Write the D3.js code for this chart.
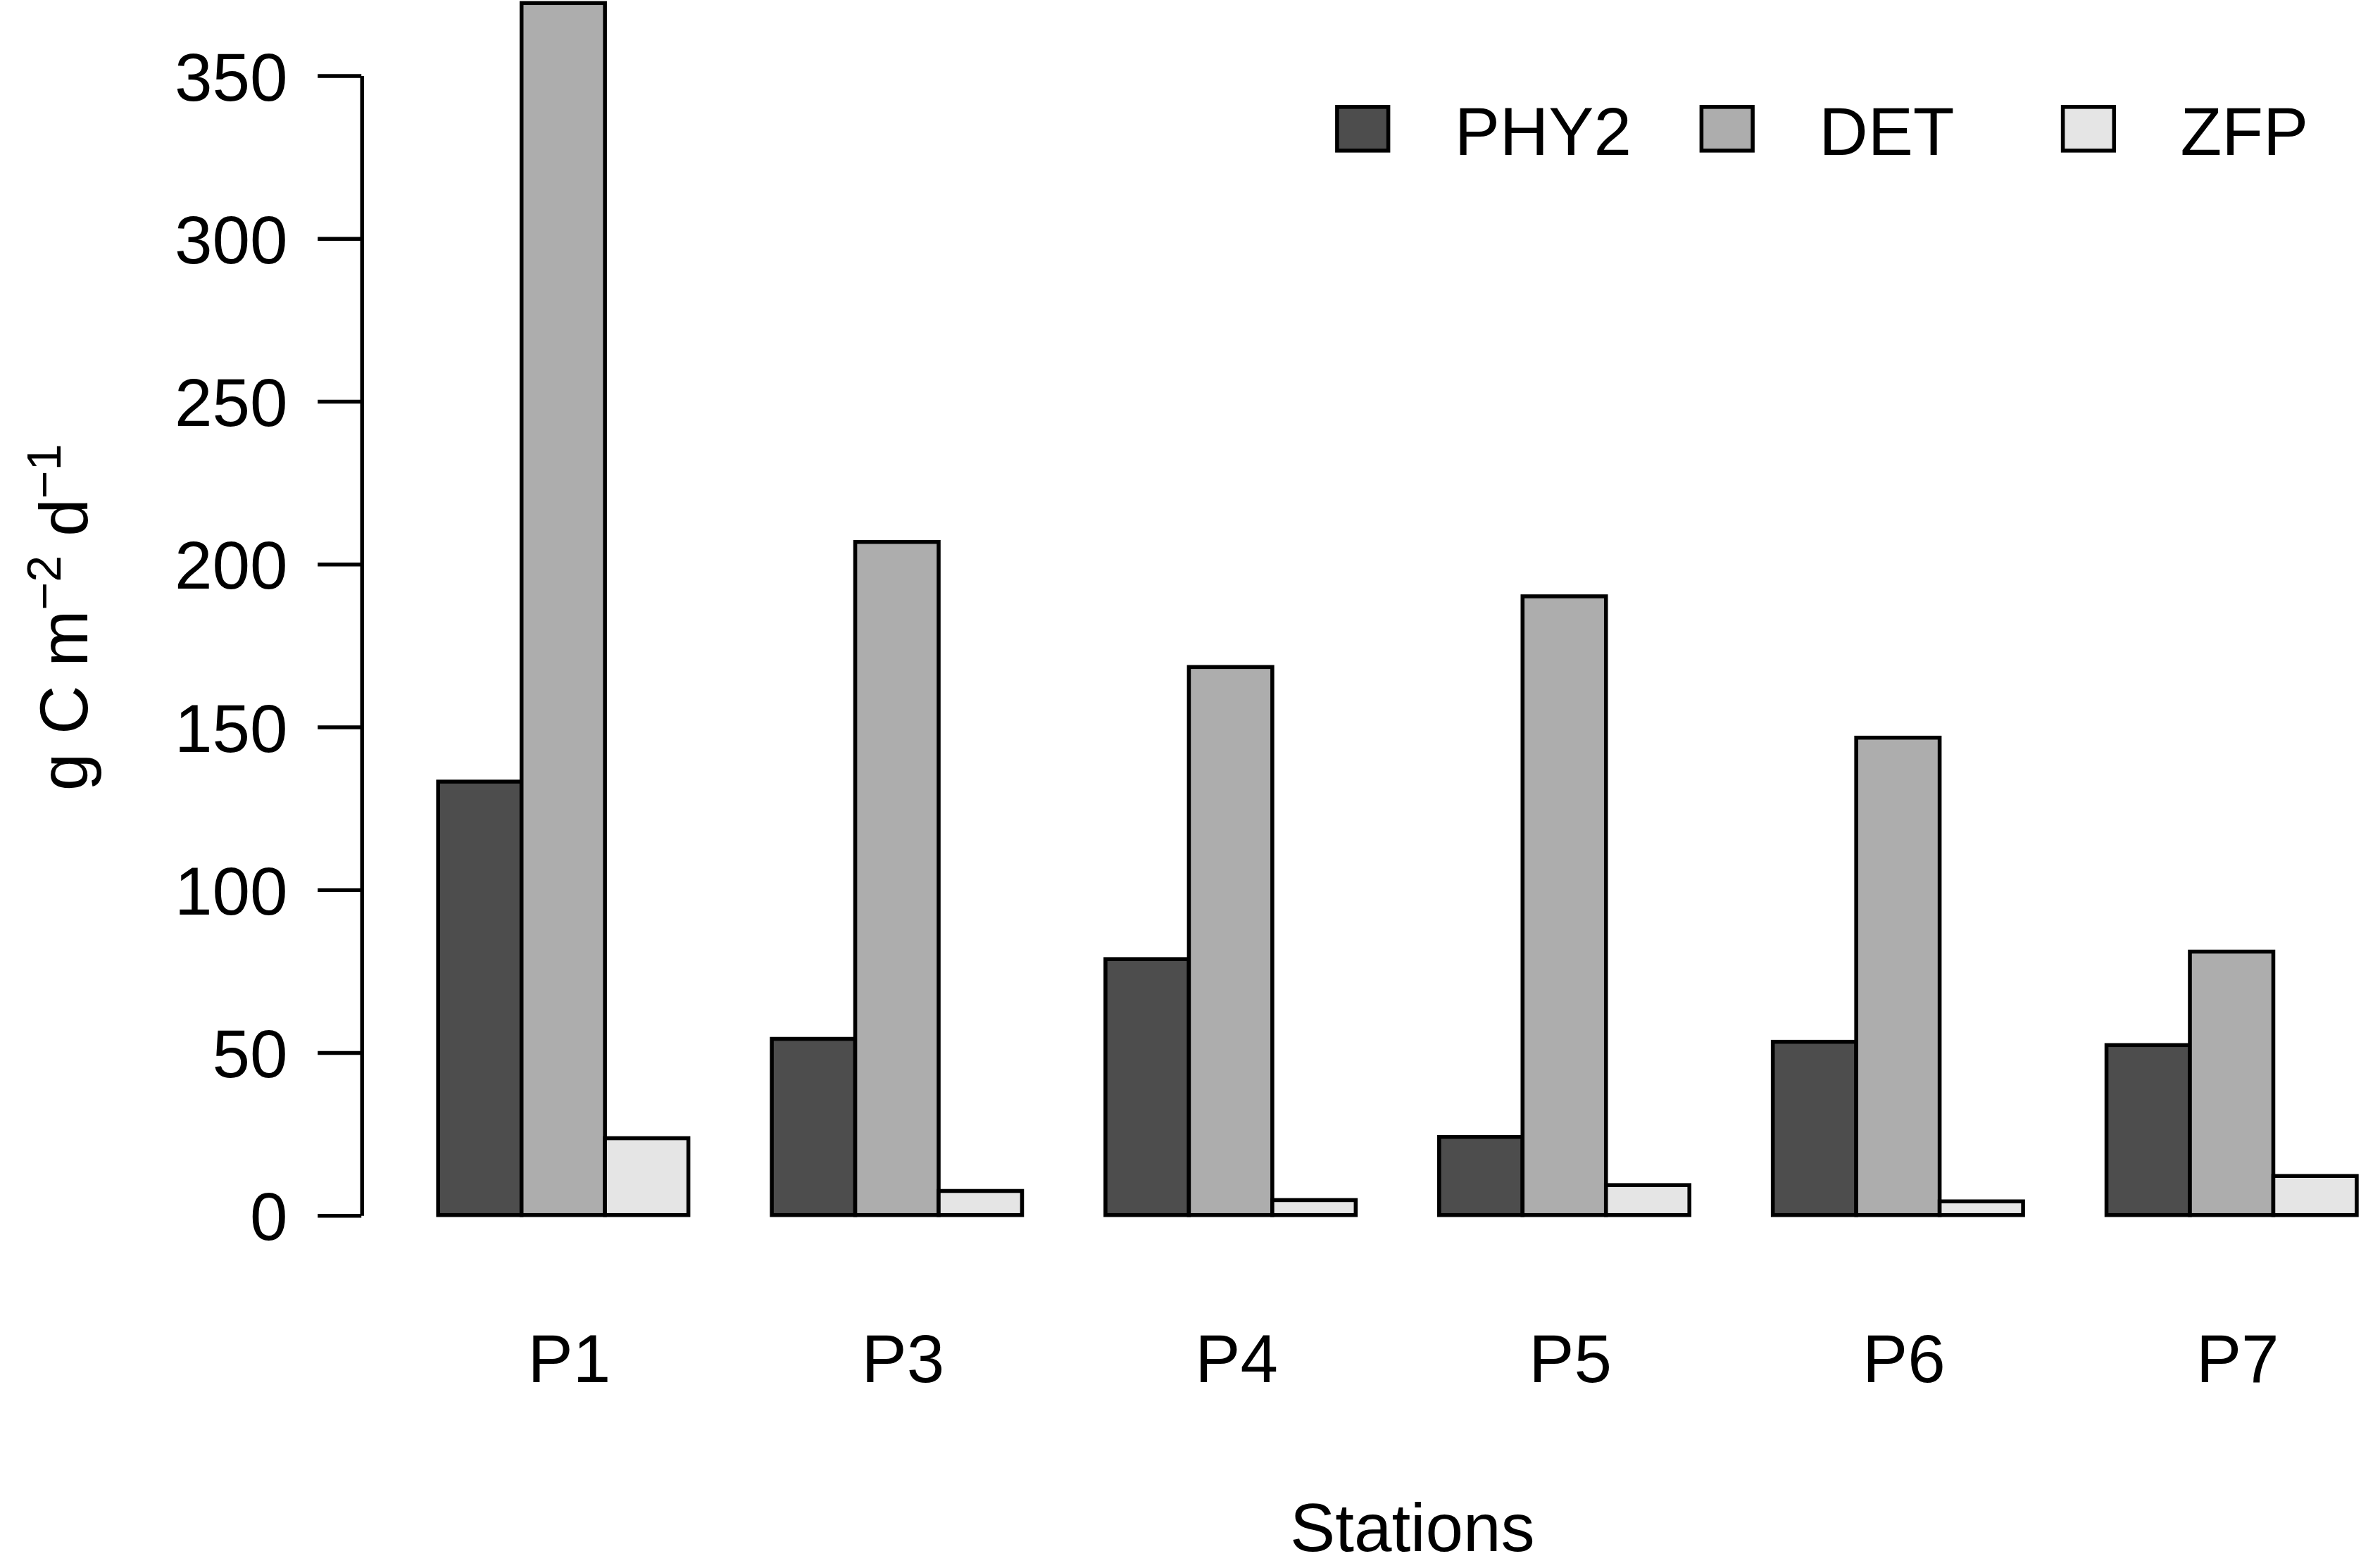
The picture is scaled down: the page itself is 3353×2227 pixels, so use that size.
<!DOCTYPE html>
<html>
<head>
<meta charset="utf-8">
<script src="https://cdn.jsdelivr.net/npm/d3@7"></script>
<style>
  body { margin: 0; background: #fff; }
  svg { display: block; }
  text { font-family: "Liberation Sans", Arial, Helvetica, sans-serif; fill: #000; }
</style>
</head>
<body>
<div id="chart"></div>
<script>
// station names and series (g C m-2 d-1)
const stations = ["P1", "P3", "P4", "P5", "P6", "P7"]
const seriesNames = ["PHY2", "DET", "ZFP"]
const phy2 = [133.1, 54.1, 78.6, 24.0, 53.2, 52.2]
const det = [372.2, 206.7, 168.3, 190.0, 146.6, 80.9]
const zfp = [23.6, 7.4, 4.6, 9.2, 4.2, 12.0]
const yTicks = [0, 50, 100, 150, 200, 250, 300, 350]
const fills = ["#4d4d4d", "#adadad", "#e5e5e5"]

const W = 1568, H = 1041.4
const fontSize = 45
const lw = 2.6

const svg = d3.select("#chart").append("svg")
  .attr("width", 3353)
  .attr("height", 2227)
  .attr("viewBox", `0 0 ${W} ${H}`)

// x in "bar width" units like R barplot(beside=TRUE), space = c(0, 1)
const nSer = seriesNames.length
const groupW = nSer + 1
const xMax = stations.length * groupW
const pad = (xMax - 1) * 0.04
const x = d3.scaleLinear().domain([1 - pad, xMax + pad]).range([240, 240 + (xMax - 1 + 2 * pad) * 55.4])
const y = d3.scaleLinear().domain([0, 350]).range([807, 50])

const series = [phy2, det, zfp]
const rows = []
stations.forEach((s, i) => {
  series.forEach((vals, j) => {
    rows.push({ station: s, i: i, j: j, value: vals[i] })
  })
})

// bars
svg.append("g")
  .selectAll("rect")
  .data(rows)
  .join("rect")
  .attr("x", d => x(1 + d.i * groupW + d.j))
  .attr("width", d => x(2) - x(1))
  .attr("y", d => y(d.value))
  .attr("height", d => y(0) - y(d.value))
  .attr("fill", d => fills[d.j])
  .attr("stroke", "#000")
  .attr("stroke-width", lw)

// y axis
const yAxis = svg.append("g")
  .attr("transform", "translate(240,0)")
  .call(d3.axisLeft(y).tickValues(yTicks).tickSize(29).tickSizeOuter(0).tickPadding(20))
yAxis.selectAll("path, line").attr("stroke", "#000").attr("stroke-width", lw)
yAxis.selectAll("text")
  .style("font-family", '"Liberation Sans", Arial, sans-serif')
  .style("font-size", fontSize + "px")
  .attr("dy", "0.36em")

// station labels
svg.append("g")
  .selectAll("text")
  .data(stations)
  .join("text")
  .attr("x", (d, i) => x(1 + i * groupW + nSer / 2))
  .attr("dx", 4)
  .attr("y", 918)
  .attr("text-anchor", "middle")
  .style("font-size", fontSize + "px")
  .text(d => d)

// x title
svg.append("text")
  .attr("x", 938)
  .attr("y", 1030)
  .attr("text-anchor", "middle")
  .style("font-size", fontSize + "px")
  .text("Stations")

// y title with superscripts
const yt = svg.append("text")
  .attr("transform", "translate(58,410) rotate(-90)")
  .attr("text-anchor", "middle")
  .style("font-size", fontSize + "px")
yt.append("tspan").text("g C m")
yt.append("tspan").attr("baseline-shift", "super").style("font-size", "32px").text("\u22122")
yt.append("tspan").text(" d")
yt.append("tspan").attr("baseline-shift", "super").style("font-size", "32px").text("\u22121")

// legend
const legendX = [888, 1130, 1370]
const leg = svg.append("g")
  .selectAll("g")
  .data(seriesNames)
  .join("g")
  .attr("transform", (d, i) => `translate(${legendX[i]},71)`)
leg.append("rect")
  .attr("width", 34)
  .attr("height", 29)
  .attr("fill", (d, i) => fills[i])
  .attr("stroke", "#000")
  .attr("stroke-width", lw)
leg.append("text")
  .attr("x", 78)
  .attr("y", 32)
  .style("font-size", fontSize + "px")
  .text(d => d)
</script>
</body>
</html>
